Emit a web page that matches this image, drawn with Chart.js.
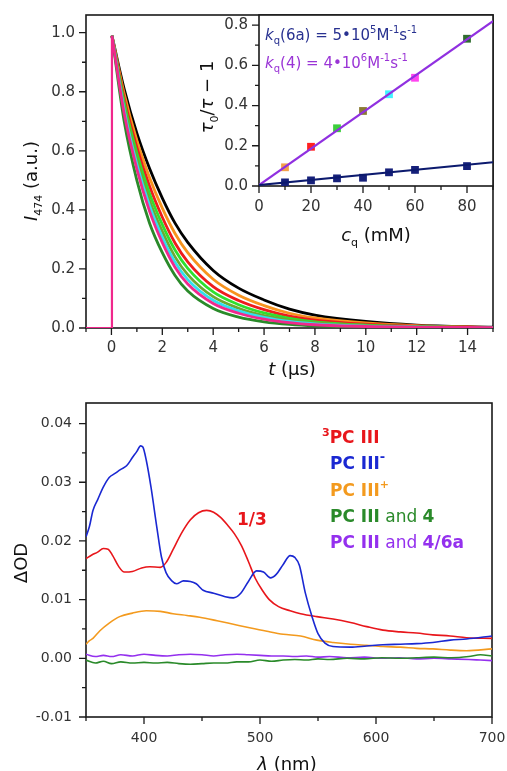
<!DOCTYPE html>
<html>
<head>
<meta charset="utf-8">
<script src="https://cdn.jsdelivr.net/npm/chart.js@4.4.1/dist/chart.umd.min.js"></script>
<style>
  html, body { margin: 0; padding: 0; background: #fff; }
  #wrap { position: relative; width: 507px; height: 771px; overflow: hidden; }
  canvas { position: absolute; }
</style>
</head>
<body>
<div id="wrap">
  <canvas id="decay" width="507" height="390" style="left:0;top:0"></canvas>
  <canvas id="inset" width="317" height="250" style="left:190px;top:0"></canvas>
  <canvas id="spectra" width="507" height="381" style="left:0;top:390px"></canvas>
</div>
<script>
// --- top panel: emission decays at 474 nm (t in µs) ---
const decayTime = [0.02, 0.5, 1, 1.5, 2, 2.5, 3, 4, 5, 6, 7, 8, 10, 12, 15];
const decay0 =  [0.99, 0.81, 0.66, 0.54, 0.44, 0.355, 0.29, 0.195, 0.135, 0.095, 0.064, 0.044, 0.022, 0.010, 0.003];
const decay10 = [0.99, 0.794, 0.635, 0.509, 0.406, 0.320, 0.255, 0.165, 0.111, 0.076, 0.050, 0.034, 0.017, 0.008, 0.002];
const decay20 = [0.99, 0.778, 0.612, 0.480, 0.375, 0.288, 0.224, 0.140, 0.093, 0.062, 0.040, 0.027, 0.013, 0.006, 0.002];
const decay30 = [0.99, 0.764, 0.591, 0.455, 0.350, 0.264, 0.202, 0.122, 0.079, 0.051, 0.033, 0.021, 0.010, 0.005, 0.001];
const decay40 = [0.99, 0.751, 0.571, 0.432, 0.327, 0.241, 0.181, 0.106, 0.067, 0.042, 0.027, 0.017, 0.008, 0.004, 0.001];
const decay50 = [0.99, 0.739, 0.554, 0.413, 0.307, 0.223, 0.164, 0.094, 0.058, 0.036, 0.022, 0.014, 0.006, 0.003, 0.001];
const decay60 = [0.99, 0.727, 0.538, 0.395, 0.289, 0.206, 0.149, 0.083, 0.050, 0.030, 0.018, 0.011, 0.005, 0.003, 0.001];
const decay80 = [0.99, 0.70, 0.50, 0.355, 0.255, 0.178, 0.125, 0.066, 0.037, 0.021, 0.012, 0.007, 0.003, 0.002, 0.001];
const pulseTime = [-1, 0.02, 0.02];
const pulseValue = [0, 0, 0.99];
const timeTicks = [0, 2, 4, 6, 8, 10, 12, 14];
const intensityTicks = [0, 0.2, 0.4, 0.6, 0.8, 1.0];

// --- inset: Stern-Volmer plot ---
const quencherConc = [10, 20, 30, 40, 50, 60, 80];
const sv4 = [0.093, 0.195, 0.287, 0.373, 0.456, 0.538, 0.732];
const sv6a = [0.018, 0.028, 0.038, 0.041, 0.068, 0.080, 0.099];
const sv4Colors = ['#f4a04a', '#ff2020', '#3ccf3c', '#8a7a32', '#3ff4ff', '#ff44f0', '#2f6e2f'];
const fitX = [0, 90];
const fit4 = [0.005, 0.82];
const fit6a = [0.005, 0.118];
const concTicks = [0, 20, 40, 60, 80];
const svTicks = [0, 0.2, 0.4, 0.6, 0.8];

// --- bottom panel: transient absorption spectra ---
const tripletNm = [350, 355, 360, 365, 369, 373, 378, 383, 390, 398, 405, 414, 419, 425, 432, 440, 447, 454, 460, 466, 472, 478, 484, 490, 496, 502, 508, 516, 526, 535, 549, 563, 578, 592, 606, 621, 635, 649, 664, 678, 700];
const tripletOD = [0.0170, 0.0176, 0.0181, 0.0187, 0.0186, 0.0175, 0.0157, 0.0147, 0.0148, 0.0154, 0.0156, 0.0155, 0.0163, 0.0185, 0.0212, 0.0236, 0.0248, 0.0252, 0.0249, 0.0240, 0.0227, 0.0212, 0.0192, 0.0165, 0.0136, 0.0116, 0.0100, 0.0088, 0.0081, 0.0076, 0.0071, 0.0067, 0.0061, 0.0054, 0.0048, 0.0045, 0.0043, 0.0040, 0.0038, 0.0035, 0.0034];
const anionNm = [350, 353, 356, 360, 365, 370, 375, 380, 385, 390, 394, 397, 399, 402, 406, 411, 415, 419, 424, 428, 434, 440, 445, 451, 460, 470, 477, 483, 490, 497, 503, 509, 514, 520, 526, 530, 534, 539, 545, 550, 556, 563, 578, 592, 606, 621, 635, 649, 664, 678, 700];
const anionOD = [0.0207, 0.0225, 0.0252, 0.0270, 0.0292, 0.0308, 0.0315, 0.0322, 0.0328, 0.0342, 0.0353, 0.0362, 0.0360, 0.0337, 0.0292, 0.0224, 0.0173, 0.0146, 0.0132, 0.0127, 0.0132, 0.0131, 0.0127, 0.0116, 0.0111, 0.0105, 0.0103, 0.0110, 0.0131, 0.0149, 0.0147, 0.0137, 0.0143, 0.0160, 0.0175, 0.0172, 0.0158, 0.0112, 0.0070, 0.0042, 0.0026, 0.0020, 0.0019, 0.0021, 0.0023, 0.0024, 0.0025, 0.0027, 0.0031, 0.0033, 0.0038];
const cationNm = [350, 353, 356, 362, 370, 379, 390, 402, 414, 425, 437, 448, 463, 477, 491, 506, 520, 535, 549, 563, 578, 592, 606, 621, 635, 649, 664, 678, 700];
const cationOD = [0.0024, 0.0030, 0.0034, 0.0047, 0.0060, 0.0071, 0.0077, 0.0081, 0.0080, 0.0076, 0.0073, 0.0070, 0.0064, 0.0058, 0.0052, 0.0046, 0.0041, 0.0038, 0.0031, 0.0027, 0.0024, 0.0022, 0.0020, 0.0019, 0.0017, 0.0016, 0.0014, 0.0013, 0.0016];
const mixNm = [350, 358, 365, 372, 380, 390, 400, 410, 420, 430, 440, 450, 460, 470, 480, 490, 500, 510, 520, 530, 540, 550, 560, 575, 590, 605, 620, 635, 650, 665, 680, 690, 700];
const with4OD = [-0.0003, -0.0008, -0.0005, -0.0009, -0.0006, -0.0008, -0.0007, -0.0008, -0.0007, -0.0009, -0.0010, -0.0009, -0.0008, -0.0008, -0.0006, -0.0006, -0.0003, -0.0005, -0.0003, -0.0002, -0.0003, -0.0001, -0.0002, 0.0000, -0.0001, 0.0001, 0.0000, 0.0001, 0.0002, 0.0001, 0.0003, 0.0006, 0.0004];
const with46aOD = [0.0007, 0.0003, 0.0005, 0.0003, 0.0006, 0.0004, 0.0007, 0.0005, 0.0004, 0.0006, 0.0007, 0.0006, 0.0004, 0.0006, 0.0007, 0.0006, 0.0005, 0.0004, 0.0004, 0.0003, 0.0004, 0.0002, 0.0003, 0.0001, 0.0002, 0.0000, 0.0001, -0.0001, 0.0000, -0.0001, -0.0002, -0.0003, -0.0004];
const nmTicks = [400, 500, 600, 700];
const odTicks = [-0.01, 0, 0.01, 0.02, 0.03, 0.04];

const FF = '"DejaVu Sans", sans-serif';
const f = (size, style = '') => `${style} ${size}px ${FF}`.trim();
Chart.defaults.font.family = FF;

const pts = (xs, ys) => xs.map((x, i) => ({ x, y: ys[i] }));

function richText(ctx, x, y, parts, opts = {}) {
  ctx.save();
  ctx.translate(x, y);
  if (opts.rotate) ctx.rotate(-Math.PI / 2);
  ctx.textBaseline = 'alphabetic';
  ctx.textAlign = 'left';
  let w = 0;
  parts.forEach(p => { ctx.font = p[1]; w += ctx.measureText(p[0]).width; });
  let cx = opts.center ? -w / 2 : 0;
  parts.forEach(p => {
    ctx.font = p[1];
    ctx.fillStyle = p[3] || opts.color || '#111';
    ctx.fillText(p[0], cx, p[2] || 0);
    cx += ctx.measureText(p[0]).width;
  });
  ctx.restore();
}

// major ticks come from the scale, minor ones sit halfway between
function marks(sc) {
  const vals = sc.ticks.map(t => t.value);
  const step = vals[1] - vals[0];
  const out = vals.map(v => [v, true]);
  for (let v = vals[0] - step / 2; v <= sc.max + 1e-9; v += step) {
    if (v >= sc.min - 1e-9) out.push([v, false]);
  }
  return out;
}

const frameTicks = {
  id: 'frameTicks',
  beforeDatasetsDraw(chart, args, opts) {
    const { ctx, chartArea: a } = chart;
    const xs = chart.scales.x, ys = chart.scales.y;
    ctx.save();
    if (opts.fill) {
      ctx.fillStyle = '#fff';
      ctx.fillRect(a.left, a.top, a.right - a.left, a.bottom - a.top);
    }
    ctx.strokeStyle = '#1a1a1a';
    ctx.lineWidth = 1.6;
    ctx.strokeRect(a.left, a.top, a.right - a.left, a.bottom - a.top);
    ctx.lineWidth = 1.3;
    ctx.beginPath();
    marks(xs).forEach(([v, major]) => {
      const p = xs.getPixelForValue(v);
      ctx.moveTo(p, a.bottom);
      ctx.lineTo(p, a.bottom + (major ? opts.major : opts.minor));
    });
    marks(ys).forEach(([v, major]) => {
      const p = ys.getPixelForValue(v);
      ctx.moveTo(a.left, p);
      ctx.lineTo(a.left - (major ? opts.major : opts.minor), p);
    });
    ctx.stroke();
    ctx.restore();
  }
};

function axis(min, max, ticks, fmt, pad, size, isX, fontSize) {
  return {
    type: 'linear', min, max,
    grid: { display: false, drawTicks: false },
    border: { display: false },
    ticks: { padding: pad, color: '#333', font: { size: fontSize }, callback: fmt, maxRotation: 0, autoSkip: false },
    afterBuildTicks: s => { s.ticks = ticks.map(v => ({ value: v })); },
    afterFit: s => {
      if (isX) s.height = size; else s.width = size;
      s.paddingLeft = s.paddingRight = s.paddingTop = s.paddingBottom = 0;
    }
  };
}

const baseOpts = {
  responsive: false,
  animation: false,
  devicePixelRatio: 1,
  plugins: { legend: { display: false }, tooltip: { enabled: false } },
  elements: { point: { radius: 0 } }
};

function decayLine(ys, color) {
  return {
    data: pts(decayTime, ys), borderColor: color, borderWidth: 2.8,
    cubicInterpolationMode: 'monotone', pointRadius: 0
  };
}

// top chart
new Chart(document.getElementById('decay'), {
  type: 'line',
  data: {
    datasets: [
      { data: pts(pulseTime, pulseValue), borderColor: '#f0288c', borderWidth: 2.2, tension: 0, pointRadius: 0 },
      decayLine(decay60, '#f0288c'),
      decayLine(decay80, '#2a8a2a'),
      decayLine(decay50, '#30e0ee'),
      decayLine(decay40, '#6fa830'),
      decayLine(decay30, '#2ee02e'),
      decayLine(decay20, '#ee1c1c'),
      decayLine(decay10, '#f7931e'),
      decayLine(decay0, '#000000')
    ]
  },
  options: {
    ...baseOpts,
    layout: { autoPadding: false, padding: { left: 0, right: 14, top: 15, bottom: 0 } },
    scales: {
      x: axis(-1, 15, timeTicks, v => String(v), 11, 62, true, 15),
      y: axis(0, 1.06, intensityTicks, v => v.toFixed(1), 11, 86, false, 15)
    },
    plugins: { ...baseOpts.plugins, frameTicks: { major: 7, minor: 4 } }
  },
  plugins: [frameTicks, {
    id: 'decayText',
    afterDraw(chart) {
      const ctx = chart.ctx;
      richText(ctx, 292, 375, [['t', f(18, 'italic')], [' (\u00b5s)', f(18)]], { center: true });
      richText(ctx, 37, 181, [['I', f(18, 'italic')], ['474', f(11), 5], [' (a.u.)', f(18)]], { center: true, rotate: true });
    }
  }]
});

// inset chart
new Chart(document.getElementById('inset'), {
  type: 'line',
  data: {
    datasets: [
      { data: pts(fitX, fit6a), borderColor: '#0c1a6e', borderWidth: 2.2, tension: 0 },
      { data: pts(fitX, fit4), borderColor: '#9030e0', borderWidth: 2.2, tension: 0 },
      { data: pts(quencherConc, sv6a), showLine: false, pointStyle: 'rect', pointRadius: 5.5, pointBorderWidth: 0, pointBackgroundColor: '#16207a' },
      { data: pts(quencherConc, sv4), showLine: false, pointStyle: 'rect', pointRadius: 5.5, pointBorderWidth: 0, pointBackgroundColor: sv4Colors }
    ]
  },
  options: {
    ...baseOpts,
    layout: { autoPadding: false, padding: { left: 0, right: 14, top: 15, bottom: 0 } },
    scales: {
      x: axis(0, 90, concTicks, v => String(v), 12, 64, true, 15),
      y: axis(0, 0.85, svTicks, v => v.toFixed(1), 11, 69, false, 15)
    },
    plugins: { ...baseOpts.plugins, frameTicks: { major: 7, minor: 4, fill: true } }
  },
  plugins: [frameTicks, {
    id: 'insetText',
    afterDraw(chart) {
      const ctx = chart.ctx;
      richText(ctx, 186, 241, [['c', f(18, 'italic')], ['q', f(11), 5], [' (mM)', f(18)]], { center: true });
      richText(ctx, 23, 97, [['\u03c4', f(18, 'italic')], ['0', f(11), 5], ['/', f(18)], ['\u03c4', f(18, 'italic')], [' \u2212 1', f(18)]], { center: true, rotate: true });
      const navy = '#283190', violet = '#9a34d6';
      richText(ctx, 75, 40, [['k', f(15, 'italic')], ['q', f(10), 4], ['(6a) = 5\u202210', f(15)], ['5', f(10), -7], ['M', f(15)], ['-1', f(10), -7], ['s', f(15)], ['-1', f(10), -7]], { color: navy });
      richText(ctx, 75, 68, [['k', f(15, 'italic')], ['q', f(10), 4], ['(4) = 4\u202210', f(15)], ['6', f(10), -7], ['M', f(15)], ['-1', f(10), -7], ['s', f(15)], ['-1', f(10), -7]], { color: violet });
    }
  }]
});

// bottom chart
function specLine(xs, ys, color) {
  return { data: pts(xs, ys), borderColor: color, borderWidth: 1.6, cubicInterpolationMode: 'monotone', pointRadius: 0 };
}
const cRed = '#e8161b', cBlue = '#1a28d2', cOrange = '#f39a1e', cGreen = '#2a8a2a', cPurple = '#9430ee';

new Chart(document.getElementById('spectra'), {
  type: 'line',
  data: {
    datasets: [
      specLine(anionNm, anionOD, cBlue),
      specLine(tripletNm, tripletOD, cRed),
      specLine(cationNm, cationOD, cOrange),
      specLine(mixNm, with4OD, cGreen),
      specLine(mixNm, with46aOD, cPurple)
    ]
  },
  options: {
    ...baseOpts,
    layout: { autoPadding: false, padding: { left: 0, right: 15, top: 13, bottom: 0 } },
    scales: {
      x: axis(350, 700, nmTicks, v => String(v), 13, 54, true, 14),
      y: axis(-0.01, 0.0435, odTicks, v => v.toFixed(2), 14, 86, false, 14)
    },
    plugins: { ...baseOpts.plugins, frameTicks: { major: 7, minor: 4 } }
  },
  plugins: [frameTicks, {
    id: 'spectraText',
    afterDraw(chart) {
      const ctx = chart.ctx;
      richText(ctx, 287, 380, [['\u03bb', f(18, 'italic')], [' (nm)', f(18)]], { center: true });
      richText(ctx, 27, 173, [['\u0394OD', f(18)]], { center: true, rotate: true });
      const B = f(17, 'bold');
      richText(ctx, 322, 53, [['3', f(11, 'bold'), -7], ['PC III', B]], { color: cRed });
      richText(ctx, 330, 79, [['PC III', B], ['-', f(13, 'bold'), -8]], { color: cBlue });
      richText(ctx, 330, 106, [['PC III', B], ['+', f(11, 'bold'), -8]], { color: cOrange });
      richText(ctx, 330, 132, [['PC III', B], [' and ', f(17)], ['4', B]], { color: cGreen });
      richText(ctx, 330, 158, [['PC III', B], [' and ', f(17)], ['4/6a', B]], { color: cPurple });
      richText(ctx, 237, 135, [['1/3', B]], { color: cRed });
    }
  }]
});
</script>
</body>
</html>
